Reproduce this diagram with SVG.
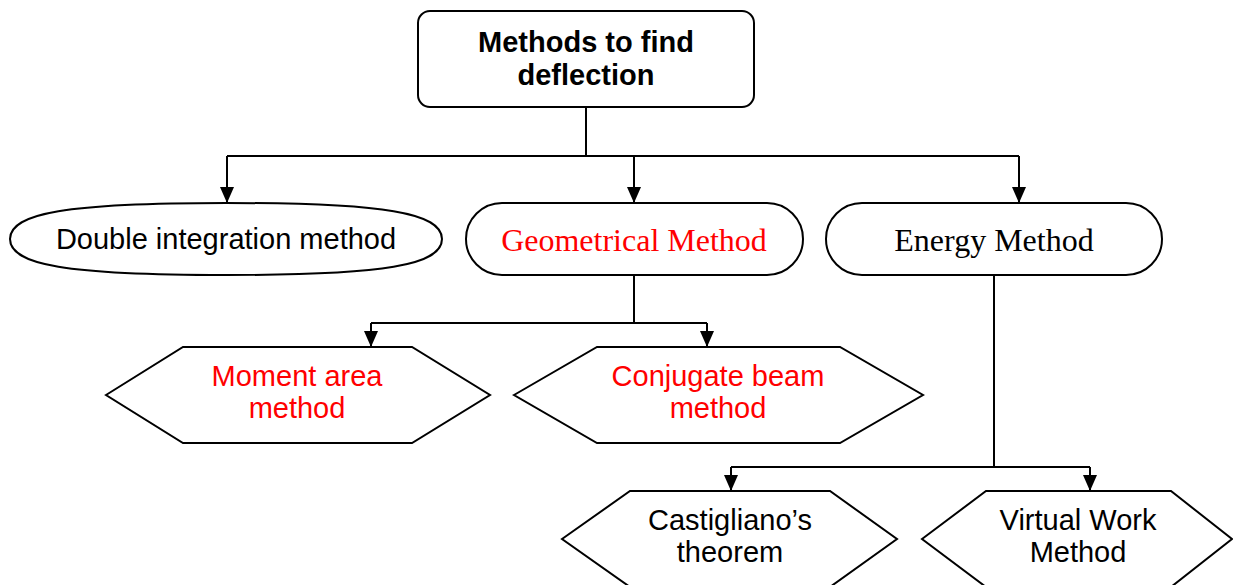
<svg xmlns="http://www.w3.org/2000/svg" width="1233" height="585" viewBox="0 0 1233 585">
<style>
.shape{fill:#fff;stroke:#000;stroke-width:2}
.con{fill:none;stroke:#000;stroke-width:2}
.sans{font-family:"Liberation Sans",Arial,sans-serif;font-size:29px;text-anchor:middle}
.serif{font-family:"Liberation Serif","Times New Roman",serif;font-size:32px;text-anchor:middle}
.red{fill:#ff0000}
.blk{fill:#000}
</style>
<defs>
<marker id="arr" markerUnits="userSpaceOnUse" markerWidth="16" markerHeight="14" viewBox="0 0 16 14" refX="16" refY="7" orient="auto">
<path d="M0,0 L16,7 L0,14 Z" fill="#000"/>
</marker>
</defs>
<g id="connectors">
<path class="con" d="M586,107 V156"/>
<path class="con" d="M227,156 H1019"/>
<path class="con" d="M227,156 V203" marker-end="url(#arr)"/>
<path class="con" d="M634,156 V203" marker-end="url(#arr)"/>
<path class="con" d="M1019,156 V203" marker-end="url(#arr)"/>
<path class="con" d="M634,275 V323"/>
<path class="con" d="M371,323 H707"/>
<path class="con" d="M371,323 V347" marker-end="url(#arr)"/>
<path class="con" d="M707,323 V347" marker-end="url(#arr)"/>
<path class="con" d="M994,275 V467"/>
<path class="con" d="M731,467 H1090"/>
<path class="con" d="M731,467 V491" marker-end="url(#arr)"/>
<path class="con" d="M1090,467 V491" marker-end="url(#arr)"/>
</g>
<g id="root">
<rect class="shape" x="418" y="11" width="336" height="96" rx="12"/>
<text class="sans blk" x="586" y="52" font-weight="bold">Methods to find</text>
<text class="sans blk" x="586" y="85" font-weight="bold">deflection</text>
</g>
<g id="double">
<path class="shape" d="M226,203 C385,203 442,213 442,239 C442,265 385,275 226,275 C67,275 10,265 10,239 C10,213 67,203 226,203 Z"/>
<text class="sans blk" x="226" y="249">Double integration method</text>
</g>
<g id="geometrical">
<rect class="shape" x="466" y="203" width="337" height="72" rx="36"/>
<text class="serif red" x="634" y="251">Geometrical Method</text>
</g>
<g id="energy">
<rect class="shape" x="826" y="203" width="336" height="72" rx="36"/>
<text class="serif blk" x="994" y="251">Energy Method</text>
</g>
<g id="moment">
<polygon class="shape" points="106,395 183,347 412,347 490,395 412,443 183,443"/>
<text class="sans red" x="297" y="386">Moment area</text>
<text class="sans red" x="297" y="418">method</text>
</g>
<g id="conjugate">
<polygon class="shape" points="514,395 597,347 840,347 923,395 840,443 597,443"/>
<text class="sans red" x="718" y="386">Conjugate beam</text>
<text class="sans red" x="718" y="418">method</text>
</g>
<g id="castigliano">
<polygon class="shape" points="562,539 630,491 830,491 897,539 830,587 630,587"/>
<text class="sans blk" x="730" y="530">Castigliano’s</text>
<text class="sans blk" x="730" y="562">theorem</text>
</g>
<g id="virtual">
<polygon class="shape" points="922,539 986,491 1171,491 1232,539 1171,587 986,587"/>
<text class="sans blk" x="1078" y="530">Virtual Work</text>
<text class="sans blk" x="1078" y="562">Method</text>
</g>
</svg>
